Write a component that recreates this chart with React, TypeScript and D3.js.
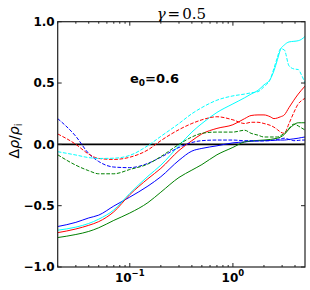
import React from "react";
import * as d3 from "d3";

const X = [0.02, 0.03, 0.04, 0.05, 0.07, 0.1, 0.15, 0.2, 0.3, 0.4, 0.5, 0.7, 1.0, 1.3, 1.5, 1.75, 2.0, 2.3, 2.5, 2.7, 2.9, 3.15, 3.5, 3.9, 4.3, 4.6, 5.0];

const blueSolid = [-0.67, -0.636, -0.6, -0.577, -0.503, -0.43, -0.34, -0.264, -0.13, -0.055, -0.033, -0.012, 0.012, 0.02, 0.025, 0.028, 0.03, 0.032, 0.033, 0.034, 0.035, 0.035, 0.04, 0.045, 0.05, 0.055, 0.06];
const redSolid = [-0.72, -0.69, -0.66, -0.63, -0.55, -0.41, -0.28, -0.196, -0.05, 0.03, 0.085, 0.13, 0.16, 0.21, 0.235, 0.24, 0.24, 0.225, 0.21, 0.215, 0.225, 0.24, 0.3, 0.36, 0.41, 0.44, 0.475];
const cyanSolid = [-0.70, -0.675, -0.645, -0.61, -0.535, -0.40, -0.26, -0.17, -0.01, 0.10, 0.17, 0.26, 0.33, 0.38, 0.41, 0.44, 0.485, 0.53, 0.6, 0.69, 0.775, 0.81, 0.835, 0.84, 0.845, 0.855, 0.88];
const greenSolid = [-0.76, -0.735, -0.71, -0.68, -0.62, -0.56, -0.475, -0.39, -0.27, -0.21, -0.165, -0.085, -0.025, 0.02, 0.028, 0.032, 0.035, 0.04, 0.045, 0.05, 0.06, 0.08, 0.125, 0.16, 0.176, 0.176, 0.176];

const blueDashed = [0.21, 0.065, -0.075, -0.14, -0.185, -0.19, -0.155, -0.105, -0.025, 0.015, 0.03, 0.035, 0.035, 0.03, 0.03, 0.028, 0.028, 0.03, 0.035, 0.04, 0.045, 0.05, 0.04, 0.03, 0.032, 0.035, 0.035];
const redDashed = [0.085, 0.0, -0.08, -0.115, -0.123, -0.105, -0.045, 0.03, 0.12, 0.17, 0.2, 0.225, 0.2, 0.17, 0.18, 0.18, 0.17, 0.155, 0.14, 0.12, 0.1, 0.09, 0.17, 0.26, 0.33, 0.355, 0.375];
const cyanDashed = [-0.06, -0.087, -0.108, -0.115, -0.113, -0.09, -0.01, 0.065, 0.17, 0.25, 0.30, 0.36, 0.395, 0.41, 0.42, 0.43, 0.47, 0.53, 0.62, 0.71, 0.78, 0.77, 0.64, 0.615, 0.61, 0.57, 0.5];
const greenDashed = [-0.085, -0.17, -0.215, -0.24, -0.24, -0.205, -0.16, -0.1, 0.0, 0.06, 0.09, 0.1, 0.1, 0.115, 0.09, 0.075, 0.06, 0.06, 0.06, 0.06, 0.07, 0.09, 0.13, 0.165, 0.15, 0.135, 0.117];

const SERIES = [
  { values: blueSolid, color: "#0000ff", dashed: false },
  { values: redSolid, color: "#ff0000", dashed: false },
  { values: cyanSolid, color: "#00ffff", dashed: false },
  { values: greenSolid, color: "#008000", dashed: false },
  { values: blueDashed, color: "#0000ff", dashed: true },
  { values: redDashed, color: "#ff0000", dashed: true },
  { values: cyanDashed, color: "#00ffff", dashed: true },
  { values: greenDashed, color: "#008000", dashed: true },
];

const Y_TICKS = [-1, -0.5, 0, 0.5, 1];
const Y_TICK_LABELS = ["\u22121.0", "\u22120.5", "0.0", "0.5", "1.0"];
const X_MAJOR = [0.1, 1];
const X_MAJOR_EXP = ["\u22121", "0"];
const X_MINOR = [0.02, 0.03, 0.04, 0.05, 0.06, 0.07, 0.08, 0.09, 0.2, 0.3, 0.4, 0.5, 0.6, 0.7, 0.8, 0.9, 2, 3, 4];

const W = 310, H = 290;
const L = 57.7, R = 305, T = 21.7, B = 267;

export default function App() {
  const x = d3.scaleLog().domain([0.02, 5]).range([L, R]);
  const y = d3.scaleLinear().domain([-1, 1]).range([B, T]);
  const line = d3
    .line<number>()
    .x((_, i) => x(X[i]))
    .y((d) => y(d))
    .curve(d3.curveMonotoneX);

  const tickFont = { fontFamily: "DejaVu Sans", fontWeight: "bold" as const, fontSize: 12 };
  const frame = "#222";

  return (
    <svg width={W} height={H} style={{ position: "absolute", left: 0, top: 0, background: "#fff" }}>
      <defs>
        <clipPath id="plot">
          <rect x={L} y={T} width={R - L} height={B - T} />
        </clipPath>
      </defs>
      <g clipPath="url(#plot)">
        <line x1={L} x2={R} y1={y(0)} y2={y(0)} stroke="#000" strokeWidth={1.8} />
        {SERIES.map((s, i) => (
          <path
            key={i}
            d={line(s.values) || ""}
            fill="none"
            stroke={s.color}
            strokeWidth={1}
            strokeDasharray={s.dashed ? "3.7,1.6" : undefined}
          />
        ))}
      </g>
      <rect x={L} y={T} width={R - L} height={B - T} fill="none" stroke={frame} strokeWidth={1.2} />
      {Y_TICKS.map((t, i) => (
        <g key={"y" + i}>
          <line x1={L} x2={L + 4} y1={y(t)} y2={y(t)} stroke={frame} strokeWidth={1} />
          <line x1={R - 4} x2={R} y1={y(t)} y2={y(t)} stroke={frame} strokeWidth={1} />
          <text x={L - 3} y={y(t)} dy="0.36em" textAnchor="end" {...tickFont}>
            {Y_TICK_LABELS[i]}
          </text>
        </g>
      ))}
      {X_MAJOR.map((t, i) => (
        <g key={"xm" + i}>
          <line x1={x(t)} x2={x(t)} y1={B} y2={B - 4} stroke={frame} strokeWidth={1} />
          <line x1={x(t)} x2={x(t)} y1={T} y2={T + 4} stroke={frame} strokeWidth={1} />
          <text x={x(t)} y={282} textAnchor="middle" {...tickFont}>
            <tspan>10</tspan>
            <tspan dy={-6} fontSize={8.5}>{X_MAJOR_EXP[i]}</tspan>
          </text>
        </g>
      ))}
      {X_MINOR.map((t, i) => (
        <g key={"xn" + i}>
          <line x1={x(t)} x2={x(t)} y1={B} y2={B - 2} stroke={frame} strokeWidth={1} />
          <line x1={x(t)} x2={x(t)} y1={T} y2={T + 2} stroke={frame} strokeWidth={1} />
        </g>
      ))}
      <text x={(L + R) / 2} y={19} textAnchor="middle" fontFamily="DejaVu Serif" fontSize={15}>
        <tspan fontStyle="italic">γ</tspan>
        <tspan dx={2}>=</tspan>
        <tspan dx={2}>0.5</tspan>
      </text>
      <text x={130} y={83} fontFamily="DejaVu Sans" fontWeight="bold" fontSize={13}>
        <tspan>e</tspan>
        <tspan dy={3} fontSize={9}>0</tspan>
        <tspan dy={-3}>=0.6</tspan>
      </text>
      <text
        transform={`translate(19,${141}) rotate(-90)`}
        textAnchor="middle"
        fontFamily="DejaVu Sans"
        fontSize={14}
      >
        <tspan>Δ</tspan>
        <tspan fontStyle="italic">ρ</tspan>
        <tspan>/</tspan>
        <tspan fontStyle="italic">ρ</tspan>
        <tspan dy={3} fontSize={10}>i</tspan>
      </text>
    </svg>
  );
}
